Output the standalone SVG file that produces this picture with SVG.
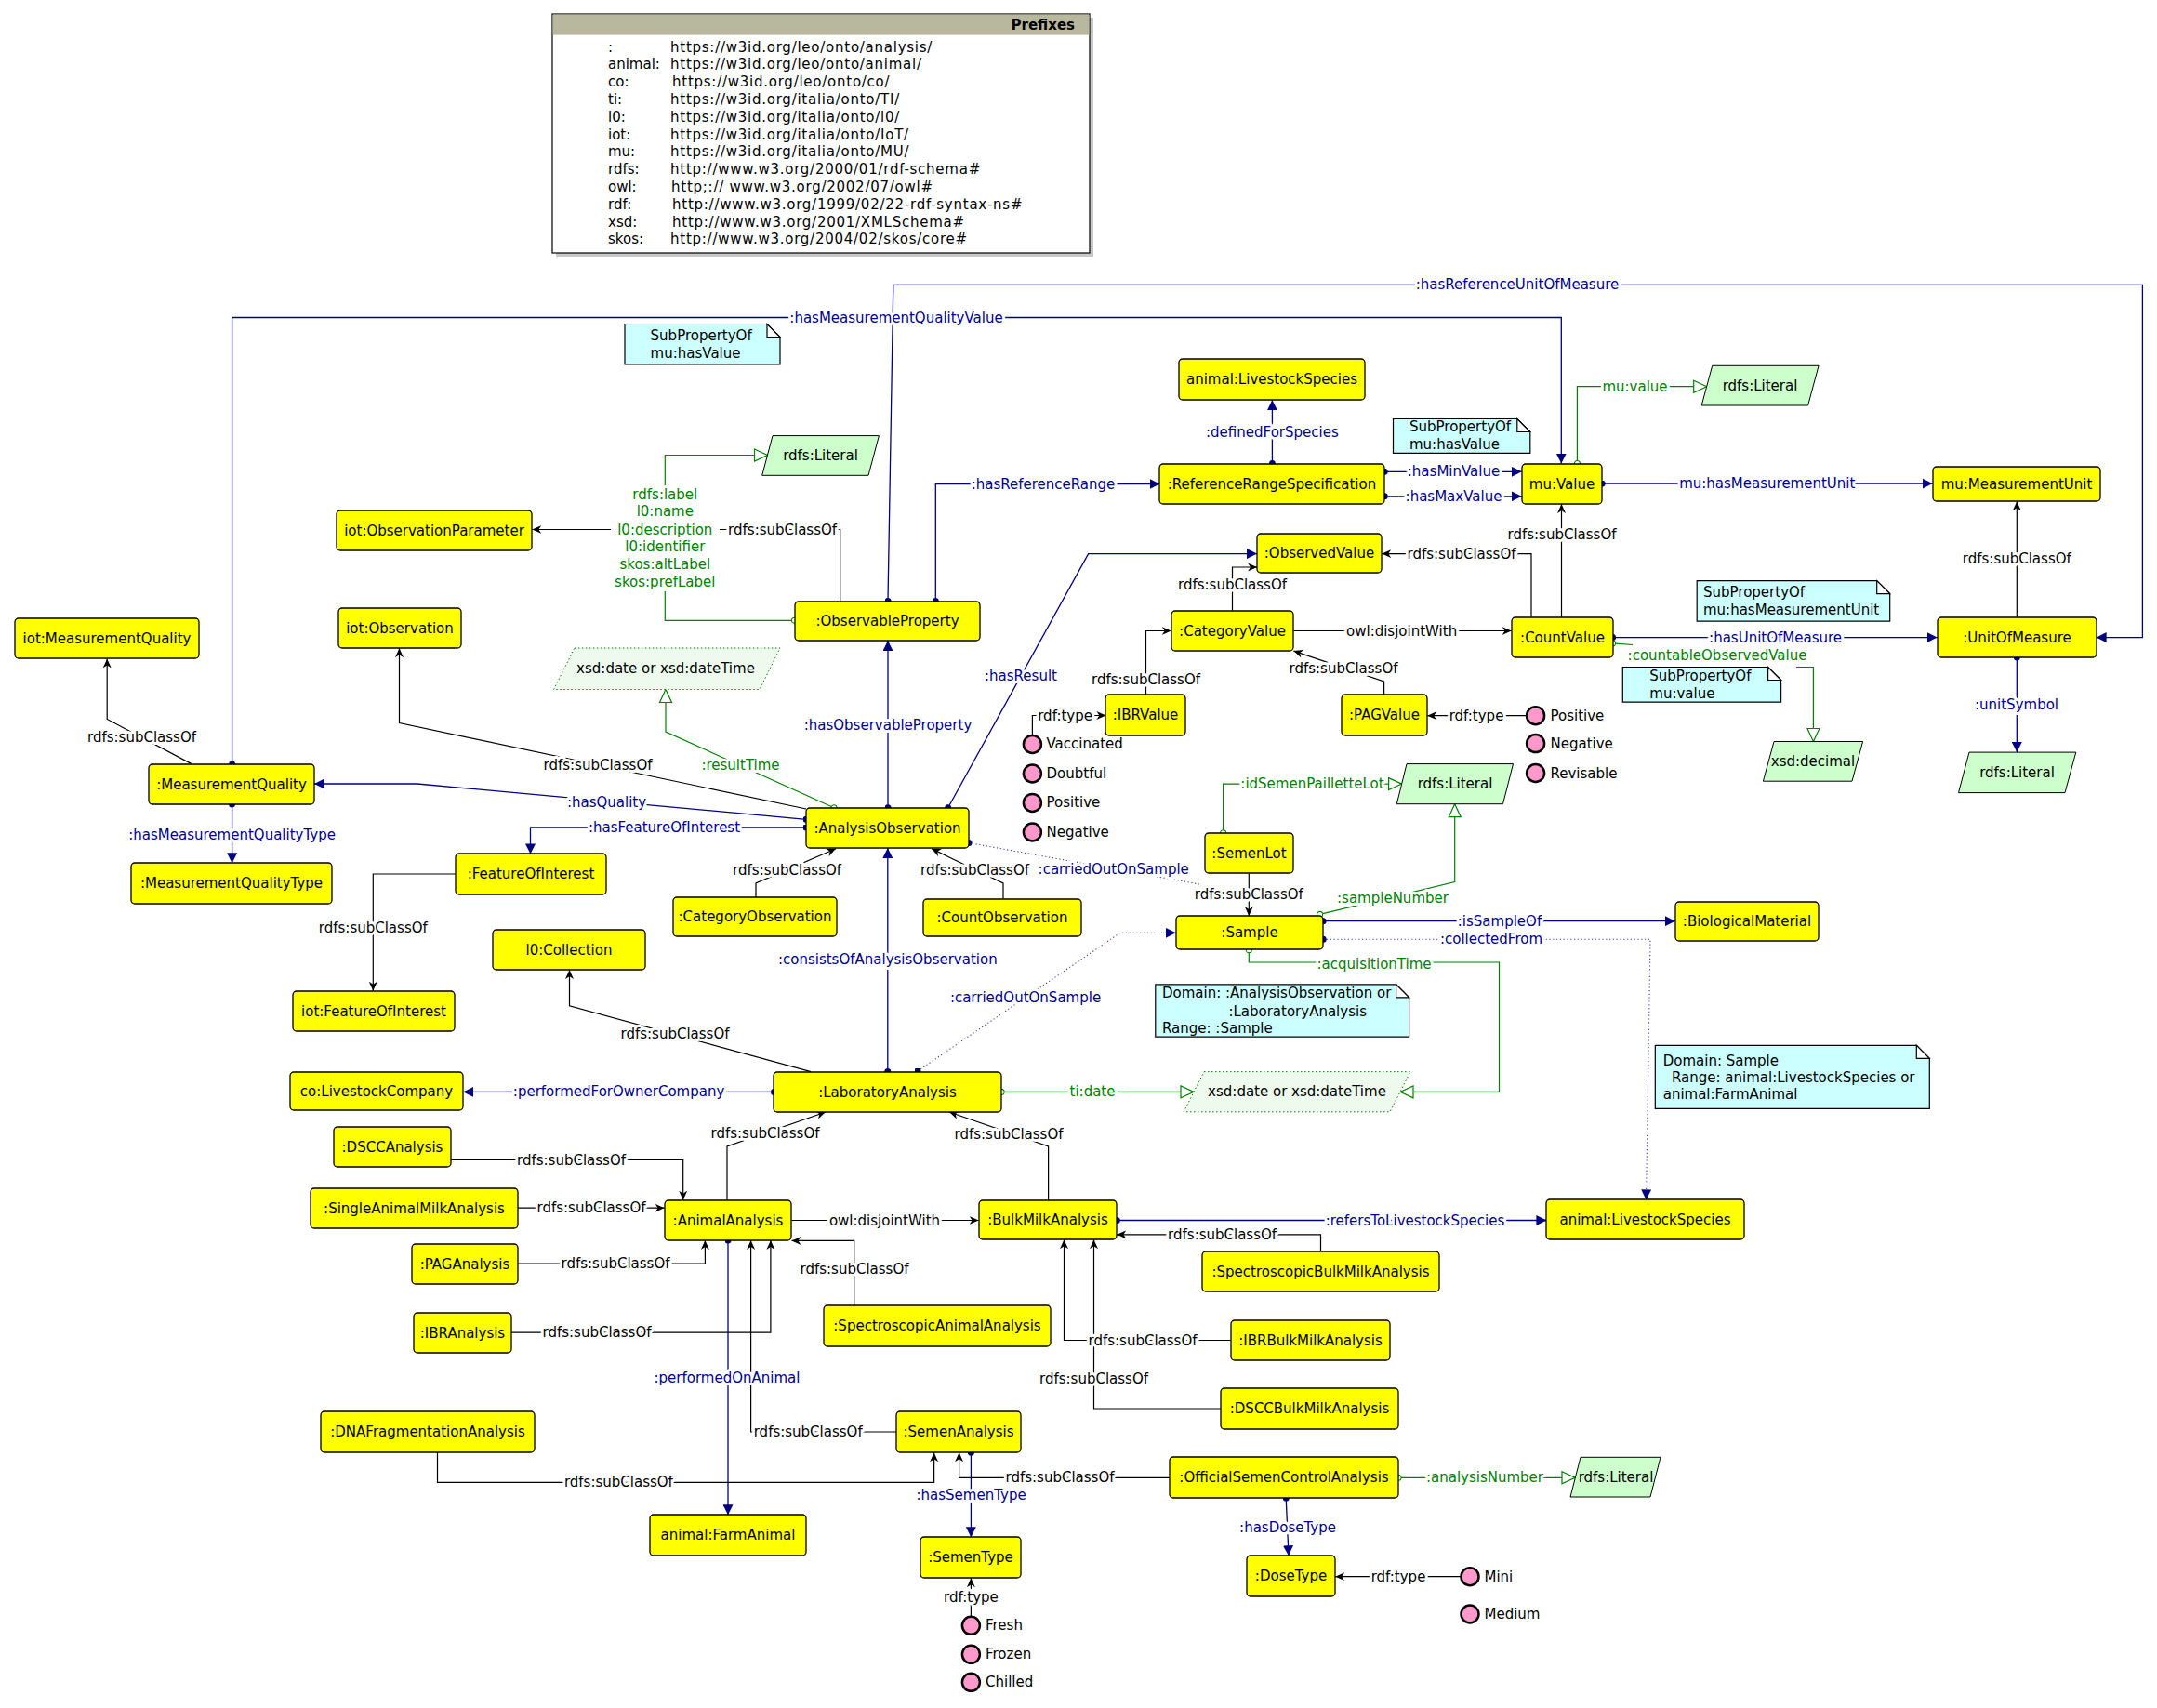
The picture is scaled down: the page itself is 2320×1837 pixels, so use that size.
<svg xmlns="http://www.w3.org/2000/svg" width="2320" height="1837" viewBox="0 0 2320 1837">
<style>
text{font-family:"DejaVu Sans",Verdana,sans-serif;font-size:15px}
.nd rect{fill:#ffff00;stroke:#000;stroke-width:1.3}
.nt{text-anchor:middle;fill:#000}
.lit polygon{fill:#ccffcc;stroke:#000;stroke-width:1}
.lit2 polygon{fill:#eefaee;stroke:#008000;stroke-width:1;stroke-dasharray:1.5 2.5}
.note path{fill:#ccffff;stroke:#000;stroke-width:1.2}
.note path.fold{fill:#fff}
.ind circle{fill:#ff99cc;stroke:#000;stroke-width:2.5}
.op{fill:none;stroke:#000080;stroke-width:1.3;marker-start:url(#dot);marker-end:url(#aN)}
.dp{fill:none;stroke:#008000;stroke-width:1.2;marker-start:url(#oc);marker-end:url(#aG)}
.sc{fill:none;stroke:#000;stroke-width:1.2;marker-end:url(#aB)}
.dt{fill:none;stroke:#3c3cb4;stroke-width:1.1;stroke-dasharray:1.2 2.6;marker-start:url(#dot);marker-end:url(#aN)}
.l{text-anchor:middle;paint-order:stroke;stroke:#fff;stroke-width:6px;stroke-linejoin:round}
.lo{fill:#00008b}
.lg{fill:#008000}
.lb{fill:#000}
.pf{letter-spacing:0.75px}
</style>
<defs>
<marker id="aN" viewBox="0 0 10 10" refX="10" refY="5" markerWidth="11" markerHeight="11" markerUnits="userSpaceOnUse" orient="auto"><path d="M0,0L10,5L0,10z" fill="#000080"/></marker>
<marker id="dot" viewBox="0 0 8 8" refX="4" refY="4" markerWidth="7" markerHeight="7" markerUnits="userSpaceOnUse"><circle cx="4" cy="4" r="4" fill="#000080"/></marker>
<marker id="aB" viewBox="0 0 10 10" refX="10" refY="5" markerWidth="10" markerHeight="10" markerUnits="userSpaceOnUse" orient="auto"><path d="M0,0.5L10,5L0,9.5L3,5z" fill="#000"/></marker>
<marker id="oc" viewBox="0 0 10 10" refX="5" refY="5" markerWidth="8" markerHeight="8" markerUnits="userSpaceOnUse"><circle cx="5" cy="5" r="3.8" fill="#fff" stroke="#008000" stroke-width="1.3"/></marker>
<marker id="aG" viewBox="0 0 16 16" refX="15" refY="8" markerWidth="16" markerHeight="16" markerUnits="userSpaceOnUse" orient="auto"><path d="M1,1.5L15,8L1,14.5z" fill="#fff" stroke="#008000" stroke-width="1.2"/></marker>
</defs>
<rect width="2320" height="1837" fill="#fff"/>

<g id="prefixes">
<rect x="598" y="19" width="578" height="257" fill="#c8c8c8"/>
<rect x="594" y="15" width="578" height="257" fill="#fff" stroke="#000" stroke-width="1.2"/>
<rect x="594.6" y="15.6" width="576.8" height="22" fill="#b8b89e"/>
<text x="1156" y="32" font-weight="bold" text-anchor="end">Prefixes</text>
<text x="654" y="55.6">:</text><text class="pf" x="721" y="55.6">https://w3id.org/leo/onto/analysis/</text>
<text x="654" y="74.4">animal:</text><text class="pf" x="721" y="74.4">https://w3id.org/leo/onto/animal/</text>
<text x="654" y="93.2">co:</text><text class="pf" x="723" y="93.2">https://w3id.org/leo/onto/co/</text>
<text x="654" y="112">ti:</text><text class="pf" x="721" y="112">https://w3id.org/italia/onto/TI/</text>
<text x="654" y="130.8">l0:</text><text class="pf" x="721" y="130.8">https://w3id.org/italia/onto/l0/</text>
<text x="654" y="149.6">iot:</text><text class="pf" x="721" y="149.6">https://w3id.org/italia/onto/IoT/</text>
<text x="654" y="168.4">mu:</text><text class="pf" x="721" y="168.4">https://w3id.org/italia/onto/MU/</text>
<text x="654" y="187.2">rdfs:</text><text class="pf" x="721" y="187.2">http://www.w3.org/2000/01/rdf-schema#</text>
<text x="654" y="206">owl:</text><text class="pf" x="722" y="206">http;:// www.w3.org/2002/07/owl#</text>
<text x="654" y="224.8">rdf:</text><text class="pf" x="723" y="224.8">http://www.w3.org/1999/02/22-rdf-syntax-ns#</text>
<text x="654" y="243.6">xsd:</text><text class="pf" x="723" y="243.6">http://www.w3.org/2001/XMLSchema#</text>
<text x="654" y="262.4">skos:</text><text class="pf" x="721" y="262.4">http://www.w3.org/2004/02/skos/core#</text>
</g>

<g id="connectors">
<path id="e1" class="op" d="M249.6,822 V341.5 H1679.3 V498.6"/>
<path id="e2" class="op" d="M955,646.6 L960.8,306.4 H2304.4 V685.6 H2254.6"/>
<path id="e3" class="op" d="M1006.3,646.6 V520.6 H1247.5"/>
<path id="e4" class="dp" d="M854.5,667.3 H715.3 V489.5 H825.5"/>
<path id="e5" class="sc" d="M903.7,646.6 V569.5 H572.3"/>
<path id="e6" class="op" d="M955,868.8 V688.9"/>
<path id="e7" class="dp" d="M897,868.8 L716,787 V741.5"/>
<path id="e8" class="sc" d="M867,870 L429.5,777.6 V697.2"/>
<path id="e9" class="op" d="M867,881.3 L448.7,843 H338"/>
<path id="e10" class="op" d="M867,890 H570.5 V918.4"/>
<path id="e11" class="op" d="M249.6,865 V928.3"/>
<path id="e12" class="sc" d="M206,821.6 L115.2,773.5 V708.4"/>
<path id="e13" class="sc" d="M489.7,940 H401.3 V1065.7"/>
<path id="e14" class="sc" d="M813,965.4 V950 L899,912.8"/>
<path id="e15" class="sc" d="M1079,966.6 V950 L1002,912.8"/>
<path id="e15b" class="dt" style="marker-end:none" d="M1042,906.5 L1290,951"/>
<path id="e16" class="op" d="M1019.7,868.8 L1170.6,595.6 H1352"/>
<path id="e17" class="op" d="M954.8,1152.6 V912"/>
<path id="e18" class="dt" d="M987,1152 L1204.8,1003.3 H1264.7"/>
<path id="e19" class="sc" d="M872.2,1152.6 L612.5,1081.8 V1043.1"/>
<path id="e20" class="op" d="M832.5,1174.4 H498.2"/>
<path id="e21" class="dp" d="M1077.1,1174.4 H1284"/>
<path id="e22" class="dp" d="M1343.3,1021.7 V1035 H1612.5 V1174.4 H1506"/>
<path id="e23" class="dp" d="M1419.6,983.4 L1564.7,948.6 V864.7"/>
<path id="e24" class="dp" d="M1315.6,895.8 V843.1 H1507.6"/>
<path id="e25" class="sc" d="M1343.3,939.4 V985"/>
<path id="e26" class="op" d="M1423.2,990.7 H1801.8"/>
<path id="e27" class="dt" d="M1423.2,1010.2 H1775 L1770.5,1290.4"/>
<path id="e28" class="sc" d="M782,1290.7 V1233 L888,1196"/>
<path id="e29" class="sc" d="M1127.6,1290.7 V1233 L1021,1196"/>
<path id="e30" class="sc" d="M851.3,1312.5 H1052.6"/>
<path id="e31" class="sc" d="M485.3,1247.5 H734.7 V1290.7"/>
<path id="e32" class="sc" d="M557.1,1299.2 H714.6"/>
<path id="e33" class="sc" d="M557.1,1359.2 H758.4 V1334"/>
<path id="e34" class="sc" d="M550,1433.1 H828.9 V1334"/>
<path id="e35" class="sc" d="M918.7,1404.4 V1334.4 H851.5"/>
<path id="e36" class="sc" d="M964.3,1540 H807.6 V1334"/>
<path id="e37" class="op" d="M783,1334 V1629.3"/>
<path id="e38" class="sc" d="M470.5,1562.3 V1594.3 H1004.6 V1562.3"/>
<path id="e39" class="sc" d="M1257.7,1589.3 H1031.6 V1562.3"/>
<path id="e40" class="op" d="M1044.4,1562.3 V1653.3"/>
<path id="e41" class="sc" d="M1044.4,1738.5 V1697.3"/>
<path id="e42" class="op" d="M1383.2,1611.3 L1386,1673.3"/>
<path id="e43" class="sc" d="M1571,1695.7 H1436.2"/>
<path id="e44" class="dp" d="M1504,1589.3 H1694"/>
<path id="e45" class="op" d="M1201.3,1312.5 H1663.4"/>
<path id="e46" class="sc" d="M1420.5,1345.8 V1327.8 H1201.3"/>
<path id="e47" class="sc" d="M1323.7,1441.5 H1144.5 V1333.2"/>
<path id="e48" class="sc" d="M1313.3,1515 H1176.5 V1333.2"/>
<path id="e49" class="op" d="M1368.4,498.6 V430.2"/>
<path id="e50" class="op" d="M1489.3,507.3 H1636.7"/>
<path id="e51" class="op" d="M1489.3,533.8 H1636.7"/>
<path id="e52" class="dp" d="M1696.4,498.6 V415.7 H1835.7"/>
<path id="e53" class="op" d="M1723.2,520.1 H2078.6"/>
<path id="e54" class="sc" d="M1679.5,663.6 V542.1"/>
<path id="e55" class="sc" d="M1647,663.6 V595.6 H1486.3"/>
<path id="e56" class="sc" d="M1325.5,656.5 V610 H1352"/>
<path id="e57" class="sc" d="M1391.4,678.5 H1625.6"/>
<path id="e58" class="sc" d="M1232.5,747.3 V678.5 H1259.7"/>
<path id="e59" class="sc" d="M1488.6,747.3 V733 L1391.4,700.1"/>
<path id="e60" class="sc" d="M1110.4,790.5 V769.5 H1189.4"/>
<path id="e61" class="sc" d="M1641.5,769.7 H1535.2"/>
<path id="e62" class="op" d="M1734.6,685.6 H2083.6"/>
<path id="e63a" class="dp" style="marker-end:none" d="M1734.6,691.8 L1756,693.5"/>
<path id="e63b" class="dp" style="marker-start:none" d="M1932,717.5 H1950.4 V797.5"/>
<path id="e64" class="sc" d="M2169.3,663.6 V539.2"/>
<path id="e65" class="op" d="M2169.3,707.1 V809.1"/>
</g>

<g id="edge-labels">
<text class="l lo" x="964" y="347.4">:hasMeasurementQualityValue</text>
<text class="l lo" x="1632" y="311.4">:hasReferenceUnitOfMeasure</text>
<text class="l lo" x="1122" y="525.6">:hasReferenceRange</text>
<rect x="657" y="523" width="117" height="113" fill="#fff"/>
<text class="l lg" x="715.3" y="537.2">rdfs:label</text>
<text class="l lg" x="715.3" y="555.4">l0:name</text>
<text class="l lg" x="715.3" y="574.5">l0:description</text>
<text class="l lg" x="715.3" y="593.1">l0:identifier</text>
<text class="l lg" x="715.3" y="612.2">skos:altLabel</text>
<text class="l lg" x="715.3" y="631.3">skos:prefLabel</text>
<text class="l lb" x="841.6" y="574.5">rdfs:subClassOf</text>
<text class="l lo" x="955" y="784.7">:hasObservableProperty</text>
<text class="l lg" x="796.5" y="828.2">:resultTime</text>
<text class="l lb" x="643" y="828">rdfs:subClassOf</text>
<text class="l lo" x="652.5" y="867.6">:hasQuality</text>
<text class="l lo" x="714.5" y="895">:hasFeatureOfInterest</text>
<text class="l lo" x="249.6" y="902.8">:hasMeasurementQualityType</text>
<text class="l lb" x="152.5" y="798.4">rdfs:subClassOf</text>
<text class="l lb" x="401.3" y="1003.4">rdfs:subClassOf</text>
<text class="l lb" x="846.6" y="941.4">rdfs:subClassOf</text>
<text class="l lb" x="1048.5" y="941.4">rdfs:subClassOf</text>
<text class="l lo" x="1197.7" y="940.2">:carriedOutOnSample</text>
<text class="l lo" x="1098" y="732">:hasResult</text>
<text class="l lo" x="954.8" y="1037">:consistsOfAnalysisObservation</text>
<text class="l lo" x="1103" y="1078.4">:carriedOutOnSample</text>
<text class="l lb" x="726" y="1117.4">rdfs:subClassOf</text>
<text class="l lo" x="665.6" y="1179.4">:performedForOwnerCompany</text>
<text class="l lg" x="1175" y="1179.4">ti:date</text>
<text class="l lg" x="1478" y="1041.6">:acquisitionTime</text>
<text class="l lg" x="1498" y="970.8">:sampleNumber</text>
<text class="l lg" x="1411.5" y="848.1">:idSemenPailletteLot</text>
<text class="l lb" x="1343.3" y="967">rdfs:subClassOf</text>
<text class="l lo" x="1613" y="995.7">:isSampleOf</text>
<text class="l lo" x="1604" y="1015.2">:collectedFrom</text>
<text class="l lb" x="823" y="1223.8">rdfs:subClassOf</text>
<text class="l lb" x="1085" y="1224.5">rdfs:subClassOf</text>
<text class="l lb" x="951.5" y="1317.5">owl:disjointWith</text>
<text class="l lb" x="614.5" y="1252.5">rdfs:subClassOf</text>
<text class="l lb" x="636" y="1304.2">rdfs:subClassOf</text>
<text class="l lb" x="662" y="1364.2">rdfs:subClassOf</text>
<text class="l lb" x="642" y="1438.1">rdfs:subClassOf</text>
<text class="l lb" x="919" y="1370">rdfs:subClassOf</text>
<text class="l lb" x="869.2" y="1545">rdfs:subClassOf</text>
<text class="l lo" x="782" y="1487.3">:performedOnAnimal</text>
<text class="l lb" x="665.4" y="1599.3">rdfs:subClassOf</text>
<text class="l lb" x="1140" y="1594.3">rdfs:subClassOf</text>
<text class="l lo" x="1044.6" y="1613.3">:hasSemenType</text>
<text class="l lb" x="1044.4" y="1723.3">rdf:type</text>
<text class="l lo" x="1385" y="1648.3">:hasDoseType</text>
<text class="l lb" x="1504" y="1700.7">rdf:type</text>
<text class="l lg" x="1597" y="1594.3">:analysisNumber</text>
<text class="l lo" x="1522" y="1317.5">:refersToLivestockSpecies</text>
<text class="l lb" x="1314.6" y="1332.8">rdfs:subClassOf</text>
<text class="l lb" x="1229" y="1446.5">rdfs:subClassOf</text>
<text class="l lb" x="1176.5" y="1488.3">rdfs:subClassOf</text>
<text class="l lo" x="1368.4" y="470">:definedForSpecies</text>
<text class="l lo" x="1563.5" y="512.3">:hasMinValue</text>
<text class="l lo" x="1563.5" y="538.8">:hasMaxValue</text>
<text class="l lg" x="1758.5" y="420.7">mu:value</text>
<text class="l lo" x="1900.8" y="525.1">mu:hasMeasurementUnit</text>
<text class="l lb" x="1680" y="579.9">rdfs:subClassOf</text>
<text class="l lb" x="1572" y="600.6">rdfs:subClassOf</text>
<text class="l lb" x="1325.5" y="633.8">rdfs:subClassOf</text>
<text class="l lb" x="1507.6" y="683.5">owl:disjointWith</text>
<text class="l lb" x="1232.5" y="736.2">rdfs:subClassOf</text>
<text class="l lb" x="1445" y="723.7">rdfs:subClassOf</text>
<text class="l lb" x="1145.6" y="774.5">rdf:type</text>
<text class="l lb" x="1588" y="774.7">rdf:type</text>
<text class="l lo" x="1909.6" y="690.6">:hasUnitOfMeasure</text>
<text class="l lg" x="1847" y="710">:countableObservedValue</text>
<text class="l lb" x="2169.3" y="606.4">rdfs:subClassOf</text>
<text class="l lo" x="2169" y="763.1">:unitSymbol</text>
</g>

<g id="notes">
<g id="note-hasvalue1" class="note"><path d="M672,348.5 H825 L839,362.5 V392 H672 Z"/><path class="fold" d="M825,348.5 V362.5 H839 Z"/><text x="699.6" y="366.4">SubPropertyOf</text><text x="699.6" y="385">mu:hasValue</text></g>
<g id="note-hasvalue2" class="note"><path d="M1498.5,450.5 H1631.8 L1645.8,464.5 V487.4 H1498.5 Z"/><path class="fold" d="M1631.8,450.5 V464.5 H1645.8 Z"/><text x="1516" y="463.8">SubPropertyOf</text><text x="1516" y="483.3">mu:hasValue</text></g>
<g id="note-hasmu" class="note"><path d="M1825.2,624.6 H2018.7 L2032.7,638.6 V668.2 H1825.2 Z"/><path class="fold" d="M2018.7,624.6 V638.6 H2032.7 Z"/><text x="1832" y="642">SubPropertyOf</text><text x="1832" y="660.7">mu:hasMeasurementUnit</text></g>
<g id="note-muvalue" class="note"><path d="M1745.3,717.5 H1901.6 L1915.6,731.5 V755.2 H1745.3 Z"/><path class="fold" d="M1901.6,717.5 V731.5 H1915.6 Z"/><text x="1774.3" y="732">SubPropertyOf</text><text x="1774.3" y="751">mu:value</text></g>
<g id="note-carried" class="note"><path d="M1242.8,1058.8 H1501.6 L1515.6,1072.8 V1115.1 H1242.8 Z"/><path class="fold" d="M1501.6,1058.8 V1072.8 H1515.6 Z"/><text x="1250" y="1073.4">Domain: :AnalysisObservation or</text><text x="1321.4" y="1092.5">:LaboratoryAnalysis</text><text x="1250" y="1111.2">Range:  :Sample</text></g>
<g id="note-collected" class="note"><path d="M1780.3,1124.3 H2061.3 L2075.3,1138.3 V1192.3 H1780.3 Z"/><path class="fold" d="M2061.3,1124.3 V1138.3 H2075.3 Z"/><text x="1788.7" y="1145.7">Domain: Sample</text><text x="1798" y="1164">Range: animal:LivestockSpecies or</text><text x="1788.7" y="1182.3">animal:FarmAnimal</text></g>
</g>

<g id="literals">
<g id="lit-label" class="lit"><polygon points="831,468.6 945.4,468.6 934,511.3 819.7,511.3"/><text class="nt" x="882.5" y="495">rdfs:Literal</text></g>
<g id="lit-muvalue" class="lit"><polygon points="1841.7,393.3 1956.1,393.3 1944.6,436 1830.2,436"/><text class="nt" x="1893" y="419.7">rdfs:Literal</text></g>
<g id="lit-decimal" class="lit"><polygon points="1908,797.5 2003.6,797.5 1992,840.2 1896.4,840.2"/><text class="nt" x="1950" y="824">xsd:decimal</text></g>
<g id="lit-unitsymbol" class="lit"><polygon points="2118,809.1 2232.8,809.1 2221,852.6 2106.5,852.6"/><text class="nt" x="2169.5" y="836">rdfs:Literal</text></g>
<g id="lit-semenlot" class="lit"><polygon points="1513,821.6 1627.5,821.6 1616.5,864.7 1502.3,864.7"/><text class="nt" x="1565" y="848">rdfs:Literal</text></g>
<g id="lit-analysisnumber" class="lit"><polygon points="1700,1567.3 1786,1567.3 1775,1610 1689,1610"/><text class="nt" x="1738" y="1594">rdfs:Literal</text></g>
<g id="lit-date1" class="lit2"><polygon points="617.9,697 839,697 817,741.5 595.6,741.5"/><text class="nt" x="716" y="724">xsd:date or xsd:dateTime</text></g>
<g id="lit-date2" class="lit2"><polygon points="1295,1152.6 1517,1152.6 1495,1195.8 1273.2,1195.8"/><text class="nt" x="1395" y="1179.4">xsd:date or xsd:dateTime</text></g>
</g>

<g id="nodes">
<g id="n-obsparam" class="nd"><rect x="362" y="549" width="210" height="43" rx="4"/><text class="nt" x="467" y="575.5">iot:ObservationParameter</text></g>
<g id="n-iotobs" class="nd"><rect x="364" y="654" width="132" height="43" rx="4"/><text class="nt" x="430" y="680.5">iot:Observation</text></g>
<g id="n-iotmq" class="nd"><rect x="16" y="665" width="198" height="43" rx="4"/><text class="nt" x="115" y="691.5">iot:MeasurementQuality</text></g>
<g id="n-mq" class="nd"><rect x="160" y="822" width="178" height="43" rx="4"/><text class="nt" x="249" y="848.5">:MeasurementQuality</text></g>
<g id="n-mqt" class="nd"><rect x="141" y="928" width="216" height="44" rx="4"/><text class="nt" x="249" y="955">:MeasurementQualityType</text></g>
<g id="n-foi" class="nd"><rect x="490" y="918" width="162" height="44" rx="4"/><text class="nt" x="571" y="945">:FeatureOfInterest</text></g>
<g id="n-obsprop" class="nd"><rect x="855" y="647" width="199" height="42" rx="4"/><text class="nt" x="954.5" y="673">:ObservableProperty</text></g>
<g id="n-anobs" class="nd"><rect x="867" y="869" width="175" height="43" rx="4"/><text class="nt" x="954.5" y="895.5">:AnalysisObservation</text></g>
<g id="n-catobs" class="nd"><rect x="724" y="965" width="176" height="42" rx="4"/><text class="nt" x="812" y="991">:CategoryObservation</text></g>
<g id="n-cntobs" class="nd"><rect x="993" y="967" width="170" height="40" rx="4"/><text class="nt" x="1078" y="992">:CountObservation</text></g>
<g id="n-coll" class="nd"><rect x="530" y="1000" width="164" height="43" rx="4"/><text class="nt" x="612" y="1026.5">l0:Collection</text></g>
<g id="n-iotfoi" class="nd"><rect x="315" y="1066" width="174" height="43" rx="4"/><text class="nt" x="402" y="1092.5">iot:FeatureOfInterest</text></g>
<g id="n-company" class="nd"><rect x="312" y="1153" width="186" height="41" rx="4"/><text class="nt" x="405" y="1178.5">co:LivestockCompany</text></g>
<g id="n-lab" class="nd"><rect x="832" y="1153" width="245" height="43" rx="4"/><text class="nt" x="954.5" y="1179.5">:LaboratoryAnalysis</text></g>
<g id="n-dscc" class="nd"><rect x="359" y="1212" width="126" height="43" rx="4"/><text class="nt" x="422" y="1238.5">:DSCCAnalysis</text></g>
<g id="n-single" class="nd"><rect x="334" y="1278" width="223" height="43" rx="4"/><text class="nt" x="445.5" y="1304.5">:SingleAnimalMilkAnalysis</text></g>
<g id="n-pag" class="nd"><rect x="443" y="1338" width="114" height="43" rx="4"/><text class="nt" x="500" y="1364.5">:PAGAnalysis</text></g>
<g id="n-ibr" class="nd"><rect x="445" y="1412" width="105" height="43" rx="4"/><text class="nt" x="497.5" y="1438.5">:IBRAnalysis</text></g>
<g id="n-animal" class="nd"><rect x="715" y="1291" width="136" height="43" rx="4"/><text class="nt" x="783" y="1317.5">:AnimalAnalysis</text></g>
<g id="n-bulk" class="nd"><rect x="1053" y="1291" width="148" height="42" rx="4"/><text class="nt" x="1127" y="1317">:BulkMilkAnalysis</text></g>
<g id="n-specanimal" class="nd"><rect x="886" y="1404" width="244" height="44" rx="4"/><text class="nt" x="1008" y="1431">:SpectroscopicAnimalAnalysis</text></g>
<g id="n-specbulk" class="nd"><rect x="1293" y="1346" width="255" height="43" rx="4"/><text class="nt" x="1420.5" y="1372.5">:SpectroscopicBulkMilkAnalysis</text></g>
<g id="n-ibrbulk" class="nd"><rect x="1324" y="1420" width="171" height="43" rx="4"/><text class="nt" x="1409.5" y="1446.5">:IBRBulkMilkAnalysis</text></g>
<g id="n-dsccbulk" class="nd"><rect x="1313" y="1493" width="191" height="44" rx="4"/><text class="nt" x="1408.5" y="1520">:DSCCBulkMilkAnalysis</text></g>
<g id="n-species2" class="nd"><rect x="1663" y="1290" width="213" height="43" rx="4"/><text class="nt" x="1769.5" y="1316.5">animal:LivestockSpecies</text></g>
<g id="n-dnafrag" class="nd"><rect x="345" y="1518" width="230" height="44" rx="4"/><text class="nt" x="460" y="1545">:DNAFragmentationAnalysis</text></g>
<g id="n-farmanimal" class="nd"><rect x="699" y="1629" width="168" height="44" rx="4"/><text class="nt" x="783" y="1656">animal:FarmAnimal</text></g>
<g id="n-semen" class="nd"><rect x="964" y="1518" width="134" height="44" rx="4"/><text class="nt" x="1031" y="1545">:SemenAnalysis</text></g>
<g id="n-osca" class="nd"><rect x="1258" y="1567" width="246" height="44" rx="4"/><text class="nt" x="1381" y="1594">:OfficialSemenControlAnalysis</text></g>
<g id="n-sementype" class="nd"><rect x="990" y="1653" width="108" height="44" rx="4"/><text class="nt" x="1044" y="1680">:SemenType</text></g>
<g id="n-dosetype" class="nd"><rect x="1341" y="1673" width="95" height="44" rx="4"/><text class="nt" x="1388.5" y="1700">:DoseType</text></g>
<g id="n-species1" class="nd"><rect x="1268" y="386" width="200" height="44" rx="4"/><text class="nt" x="1368" y="413">animal:LivestockSpecies</text></g>
<g id="n-rrs" class="nd"><rect x="1247" y="499" width="242" height="43" rx="4"/><text class="nt" x="1368" y="525.5">:ReferenceRangeSpecification</text></g>
<g id="n-muvalue" class="nd"><rect x="1637" y="499" width="86" height="43" rx="4"/><text class="nt" x="1680" y="525.5">mu:Value</text></g>
<g id="n-mu-unit" class="nd"><rect x="2079" y="502" width="180" height="37" rx="4"/><text class="nt" x="2169" y="525.5">mu:MeasurementUnit</text></g>
<g id="n-observed" class="nd"><rect x="1352" y="574" width="134" height="42" rx="4"/><text class="nt" x="1419" y="600">:ObservedValue</text></g>
<g id="n-catval" class="nd"><rect x="1260" y="657" width="131" height="43" rx="4"/><text class="nt" x="1325.5" y="683.5">:CategoryValue</text></g>
<g id="n-cntval" class="nd"><rect x="1626" y="664" width="109" height="43" rx="4"/><text class="nt" x="1680.5" y="690.5">:CountValue</text></g>
<g id="n-uom" class="nd"><rect x="2084" y="664" width="171" height="43" rx="4"/><text class="nt" x="2169.5" y="690.5">:UnitOfMeasure</text></g>
<g id="n-ibrval" class="nd"><rect x="1189" y="747" width="86" height="44" rx="4"/><text class="nt" x="1232" y="774">:IBRValue</text></g>
<g id="n-pagval" class="nd"><rect x="1443" y="747" width="92" height="44" rx="4"/><text class="nt" x="1489" y="774">:PAGValue</text></g>
<g id="n-semenlot" class="nd"><rect x="1296" y="896" width="95" height="43" rx="4"/><text class="nt" x="1343.5" y="922.5">:SemenLot</text></g>
<g id="n-sample" class="nd"><rect x="1265" y="985" width="158" height="36" rx="4"/><text class="nt" x="1344" y="1008">:Sample</text></g>
<g id="n-biomat" class="nd"><rect x="1802" y="970" width="154" height="42" rx="4"/><text class="nt" x="1879" y="996">:BiologicalMaterial</text></g>
</g>

<g id="individuals">
<g id="i-vaccinated" class="ind"><circle cx="1110.4" cy="800.4" r="9.5"/><text x="1125.5" y="805.4">Vaccinated</text></g>
<g id="i-doubtful" class="ind"><circle cx="1110.4" cy="832" r="9.5"/><text x="1125.5" y="837">Doubtful</text></g>
<g id="i-positive1" class="ind"><circle cx="1110.4" cy="863.4" r="9.5"/><text x="1125.5" y="868.4">Positive</text></g>
<g id="i-negative1" class="ind"><circle cx="1110.4" cy="895" r="9.5"/><text x="1125.5" y="900">Negative</text></g>
<g id="i-positive2" class="ind"><circle cx="1651.6" cy="769.7" r="9.5"/><text x="1667.5" y="774.7">Positive</text></g>
<g id="i-negative2" class="ind"><circle cx="1651.6" cy="799.6" r="9.5"/><text x="1667.5" y="804.6">Negative</text></g>
<g id="i-revisable" class="ind"><circle cx="1651.6" cy="831.5" r="9.5"/><text x="1667.5" y="836.5">Revisable</text></g>
<g id="i-fresh" class="ind"><circle cx="1044.4" cy="1748.3" r="9.5"/><text x="1060" y="1753.3">Fresh</text></g>
<g id="i-frozen" class="ind"><circle cx="1044.4" cy="1779.3" r="9.5"/><text x="1060" y="1784.3">Frozen</text></g>
<g id="i-chilled" class="ind"><circle cx="1044.4" cy="1809.3" r="9.5"/><text x="1060" y="1814.3">Chilled</text></g>
<g id="i-mini" class="ind"><circle cx="1581" cy="1695.7" r="9.5"/><text x="1596.5" y="1700.7">Mini</text></g>
<g id="i-medium" class="ind"><circle cx="1581" cy="1736" r="9.5"/><text x="1596.5" y="1741">Medium</text></g>
</g>
</svg>
